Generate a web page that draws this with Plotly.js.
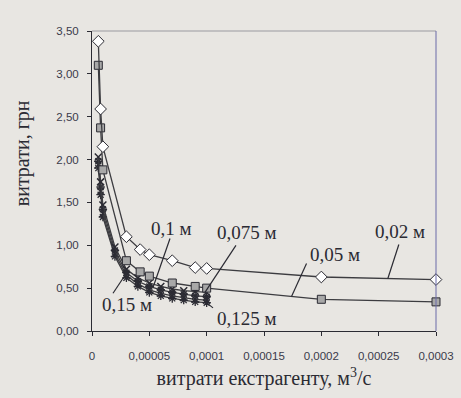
<!DOCTYPE html>
<html>
<head>
<meta charset="utf-8">
<script src="https://cdn.plot.ly/plotly-3.0.1.min.js"></script>
<style>
  html, body { margin: 0; padding: 0; background: #e8e6e2; }
  #chart { width: 461px; height: 398px; }
</style>
</head>
<body>
<div id="chart"></div>
<script>
// Extractant flow rate, m^3/s
const flowWide = [0.0000055, 0.0000075, 0.0000095, 0.00003, 0.000042, 0.00005, 0.00007, 0.00009, 0.0001, 0.0002, 0.0003];
const flowNarrow = [0.0000055, 0.0000075, 0.0000095, 0.00002, 0.00003, 0.00004, 0.00005, 0.00006, 0.00007, 0.00008, 0.00009, 0.0001];

// Cost, UAH, for each pipe diameter
const cost002 = [3.38, 2.59, 2.15, 1.10, 0.95, 0.89, 0.82, 0.74, 0.73, 0.63, 0.60];
const cost005 = [3.10, 2.37, 1.88, 0.82, 0.69, 0.64, 0.56, 0.52, 0.50, 0.37, 0.34];
const cost0075 = [2.03, 1.74, 1.47, 0.98, 0.72, 0.62, 0.56, 0.52, 0.49, 0.47, 0.46, 0.45];
const cost01 = [1.98, 1.68, 1.42, 0.94, 0.68, 0.58, 0.52, 0.48, 0.45, 0.43, 0.41, 0.40];
const cost0125 = [1.94, 1.63, 1.37, 0.90, 0.65, 0.55, 0.48, 0.44, 0.41, 0.39, 0.37, 0.36];
const cost015 = [1.90, 1.59, 1.33, 0.87, 0.62, 0.52, 0.45, 0.41, 0.38, 0.36, 0.34, 0.33];

const diameterLabels = ['0,02 м', '0,05 м', '0,075 м', '0,1 м', '0,125 м', '0,15 м'];

const xTickVals = [0, 0.00005, 0.0001, 0.00015, 0.0002, 0.00025, 0.0003];
const xTickText = ['0', '0,00005', '0,0001', '0,00015', '0,0002', '0,00025', '0,0003'];

const ink = '#2b2b33';
const lineCol = '#3c3c40';

function series(xs, ys, name, symbol, fill, size, lw) {
  return {
    x: xs, y: ys, name: name, type: 'scatter', mode: 'lines+markers',
    line: { color: lineCol, width: 1.3 },
    marker: { symbol: symbol, size: size, color: fill, line: { color: ink, width: lw } },
    cliponaxis: false
  };
}

const traces = [
  series(flowNarrow, cost015, diameterLabels[5], 'asterisk', ink, 7, 1.3),
  series(flowNarrow, cost0125, diameterLabels[4], 'x-thin', ink, 7, 1.5),
  series(flowNarrow, cost01, diameterLabels[3], 'asterisk', ink, 7, 1.3),
  series(flowNarrow, cost0075, diameterLabels[2], 'x-thin', ink, 7, 1.5),
  series(flowWide, cost005, diameterLabels[1], 'square', '#a8a8a8', 8, 1),
  series(flowWide, cost002, diameterLabels[0], 'diamond', '#ffffff', 9, 1)
];

// linear interpolation along a series, used to anchor the label leaders on the curves
function at(xs, ys, xv) {
  for (let i = 0; i < xs.length - 1; i++) {
    if (xv >= xs[i] && xv <= xs[i + 1]) {
      const t = (xv - xs[i]) / (xs[i + 1] - xs[i]);
      return ys[i] + t * (ys[i + 1] - ys[i]);
    }
  }
  return ys[ys.length - 1];
}

// [label, xs, ys, anchor x, leader dx, leader dy, text dx, text dy]
const callouts = [
  [diameterLabels[0], flowWide, cost002, 0.000258, 11, 34, 12, 47],
  [diameterLabels[1], flowWide, cost005, 0.000174, 15, 33, 43, 42],
  [diameterLabels[2], flowNarrow, cost0075, 0.0000985, 31, 47, 42, 60],
  [diameterLabels[3], flowNarrow, cost01, 0.0000532, 17, 49, 18, 59],
  [diameterLabels[4], flowNarrow, cost0125, 0.0000968, 10, -8, 44, -19],
  [diameterLabels[5], flowNarrow, cost015, 0.0000288, -12, -18, 2, -29]
];

const shapes = [];
const annotations = [];
callouts.forEach(c => {
  const ax = c[3], ay = at(c[1], c[2], c[3]);
  shapes.push({
    type: 'line', xref: 'x', yref: 'y', xsizemode: 'pixel', ysizemode: 'pixel',
    xanchor: ax, yanchor: ay, x0: 0, y0: 0, x1: c[4], y1: c[5],
    line: { color: ink, width: 1.2 }
  });
  annotations.push({
    text: c[0], x: ax, y: ay, xref: 'x', yref: 'y', showarrow: false,
    xshift: c[6], yshift: c[7],
    font: { family: 'Liberation Serif, Times New Roman, serif', size: 19, color: ink }
  });
});

// faint frame on the top and right of the plot area
shapes.push({ type: 'line', xref: 'paper', yref: 'paper', x0: 0, x1: 1, y0: 1, y1: 1,
  line: { color: '#9a9aa0', width: 1 } });
shapes.push({ type: 'line', xref: 'paper', yref: 'paper', x0: 1, x1: 1, y0: 0, y1: 1,
  line: { color: '#6a6aa8', width: 1 } });

annotations.push({
  text: 'витрати, грн', xref: 'paper', yref: 'paper', x: -0.203, y: 0.593,
  textangle: -90, showarrow: false, xanchor: 'center', yanchor: 'middle',
  font: { family: 'Liberation Serif, Times New Roman, serif', size: 20, color: ink }
});

const tickFont = { family: 'Liberation Sans, Arial, sans-serif', size: 11.5, color: '#3a3a4a' };

const layout = {
  width: 461, height: 398,
  margin: { l: 92, r: 25, t: 31, b: 67 },
  paper_bgcolor: '#e8e6e2',
  plot_bgcolor: '#e8e6e2',
  separators: ', ',
  showlegend: false,
  xaxis: {
    range: [0, 0.0003],
    tickvals: xTickVals, ticktext: xTickText,
    showgrid: false, zeroline: false,
    showline: true, linecolor: ink, linewidth: 1,
    ticks: 'outside', ticklen: 4, tickcolor: ink,
    ticklabelstandoff: 10,
    tickfont: tickFont,
    title: { text: 'витрати екстрагенту, м<sup>3</sup>/с', standoff: 10,
      font: { family: 'Liberation Serif, Times New Roman, serif', size: 20, color: ink } }
  },
  yaxis: {
    range: [0, 3.5], dtick: 0.5, tickformat: '.2f',
    showgrid: false, zeroline: false,
    showline: true, linecolor: ink, linewidth: 1,
    ticks: 'outside', ticklen: 4, tickcolor: ink,
    ticklabelstandoff: 6,
    tickfont: tickFont
  },
  shapes: shapes,
  annotations: annotations
};

Plotly.newPlot('chart', traces, layout, { displayModeBar: false, staticPlot: true });
</script>
</body>
</html>
